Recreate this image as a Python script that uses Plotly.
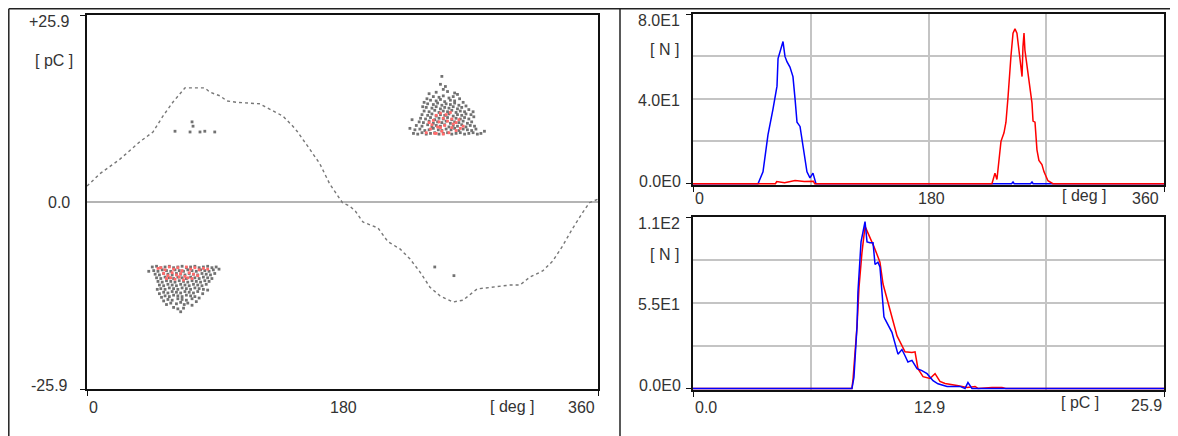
import plotly.graph_objects as go

# the page body has an 8 px margin; the figure is sized to fit inside the window
OFF = 8
W, H = 1178 - 2 * OFF, 436 - OFF

# ---------------- data ----------------
# left: phase-resolved pattern, sine reference (deg, pC)
sine_ref = [(0, 2.2), (9, 3.9), (23, 5.9), (37, 8.3), (46.5, 9.7), (53.5, 11.9), (60.6, 13.85), (65.5, 15.0),
            (69, 15.8), (83, 15.8), (86.7, 15.2), (93.7, 14.7), (98.6, 14.0), (105.7, 13.8), (121.9, 13.6),
            (125.4, 13.2), (131, 12.6), (138, 11.9), (145, 10.5), (148, 9.8), (157, 7.3), (164, 5.3), (171, 2.5),
            (180, -0.1), (185, -0.55), (189, -1.25), (194.4, -2.77), (205, -3.6), (212, -5.5), (220.5, -6.5),
            (227.6, -7.9), (234.6, -9.7), (241.6, -11.8), (248.7, -13.0), (257.8, -13.85), (264.9, -13.6),
            (274.8, -12.05), (286, -11.8), (298, -11.5), (305, -11.5), (312, -10.4), (321, -9.55), (328, -8.2),
            (335, -6.1), (342, -3.7), (349.4, -1.4), (354, -0.1), (360, 0.4)]

pos_cluster_gray = [
    (230, 9.5), (233, 9.4), (236, 9.6), (239, 9.4), (242, 9.5), (245, 9.6), (248, 9.4), (251, 9.5), (254, 9.6),
    (257, 9.4), (260, 9.5), (263, 9.6), (266, 9.4), (269, 9.5), (272, 9.6), (275, 9.4), (277.5, 9.5),
    (231, 10.0), (234.5, 10.1), (238, 9.9), (241, 10.0), (244, 10.2), (247.5, 10.0), (250, 9.9), (253, 10.1),
    (256.5, 10.0), (259, 10.2), (262, 9.9), (265, 10.1), (268, 10.0), (271, 9.9), (274, 10.1),
    (232, 10.6), (236, 10.5), (240, 10.7), (243, 10.4), (246, 10.6), (249, 10.5), (252, 10.7), (255, 10.4),
    (258, 10.6), (261, 10.5), (264, 10.7), (267, 10.4), (270, 10.6), (273, 10.5),
    (234, 11.1), (237, 11.0), (241, 11.2), (244, 10.9), (247, 11.1), (250, 11.0), (253, 11.2), (256, 10.9),
    (259, 11.1), (262, 11.0), (265, 11.2), (268, 10.9), (271, 11.1),
    (235, 11.6), (238.5, 11.5), (242, 11.7), (245, 11.4), (248, 11.6), (251, 11.5), (254, 11.7), (257, 11.4),
    (260, 11.6), (263, 11.5), (266, 11.7), (269, 11.5), (272.5, 11.8),
    (236, 12.1), (240, 12.0), (243, 12.2), (246, 11.9), (249, 12.1), (252, 12.0), (255, 12.2), (258, 11.9),
    (261, 12.1), (264, 12.0), (267, 12.2), (270.5, 12.1),
    (237.5, 12.6), (241, 12.5), (245, 12.7), (248, 12.4), (251, 12.6), (254, 12.5), (257, 12.7), (260, 12.4),
    (263, 12.6), (266, 12.5), (269, 12.8), (272, 12.5),
    (236.5, 13.2), (239, 13.1), (243, 13.0), (246, 13.2), (249, 12.9), (252, 13.1), (255, 13.0), (258, 13.2),
    (261, 12.9), (264, 13.1), (267, 13.3),
    (237.5, 13.8), (240, 13.6), (244, 13.5), (247, 13.7), (250, 13.4), (253, 13.6), (256, 13.5), (259, 13.7),
    (262, 13.4), (265, 13.8),
    (239.5, 14.3), (242, 14.1), (246, 14.0), (249, 14.2), (252, 13.9), (256, 14.1), (259, 14.0), (262.5, 14.3),
    (244, 14.6), (248, 14.5), (251, 14.7), (255, 14.4), (258, 14.6), (261, 14.9),
    (246, 15.2), (251, 15.6), (249, 16.3), (250, 17.4), (254, 15.3), (241, 15.0), (259, 15.1),
    (227.5, 10.2), (280, 9.8), (229, 11.4), (252.5, 16.0)]

pos_cluster_red = [
    (239, 9.6), (242, 10.1), (245, 9.5), (247, 10.4), (250, 9.8), (252, 10.6), (255, 9.6), (257, 10.3),
    (260, 9.9), (263, 10.2), (241, 11.0), (244, 11.3), (248, 11.1), (251, 11.6), (254, 11.2), (257, 11.5),
    (260, 11.0), (246, 12.0), (249, 12.3), (253, 12.1), (256, 12.4), (243, 10.7), (249, 10.3), (258, 10.8),
    (262, 11.4), (265, 10.5), (251, 9.4), (246, 9.5)]

neg_cluster_gray = [
    (46, -9.0), (49, -8.9), (52, -9.1), (55, -9.0), (58, -8.9), (61, -9.1), (64, -9.0), (67, -8.9), (70, -9.1),
    (73, -9.0), (76, -8.9), (79, -9.1), (82, -9.0), (85, -8.9), (88, -9.1), (91, -9.0),
    (47, -9.5), (50, -9.6), (53, -9.4), (56, -9.5), (59, -9.6), (62, -9.4), (65, -9.5), (68, -9.6), (71, -9.4),
    (74, -9.5), (77, -9.6), (80, -9.4), (83, -9.5), (86, -9.6), (89, -9.4),
    (48, -10.0), (51, -10.1), (54, -9.9), (57, -10.0), (60, -10.1), (63, -9.9), (66, -10.0), (69, -10.1),
    (72, -9.9), (75, -10.0), (78, -10.1), (81, -9.9), (84, -10.0), (87, -10.1), (90, -9.9),
    (49, -10.5), (52, -10.6), (55, -10.4), (58, -10.5), (61, -10.6), (64, -10.4), (67, -10.5), (70, -10.6),
    (73, -10.4), (76, -10.5), (79, -10.6), (82, -10.4), (85, -10.5), (88, -10.6),
    (50, -11.0), (53, -11.1), (56, -10.9), (59, -11.0), (62, -11.1), (65, -10.9), (68, -11.0), (71, -11.1),
    (74, -10.9), (77, -11.0), (80, -11.1), (83, -10.9), (86, -11.0),
    (51, -11.5), (54, -11.6), (57, -11.4), (60, -11.5), (63, -11.6), (66, -11.4), (69, -11.5), (72, -11.6),
    (75, -11.4), (78, -11.5), (81, -11.6), (84, -11.4),
    (49.5, -12.1), (52, -12.0), (55, -12.1), (58, -11.9), (61, -12.0), (64, -12.1), (67, -11.9), (70, -12.0),
    (73, -12.1), (76, -11.9), (79, -12.0), (82, -12.1), (85, -12.2),
    (51, -12.7), (54, -12.5), (57, -12.6), (60, -12.4), (63, -12.5), (66, -12.6), (69, -12.4), (72, -12.5),
    (75, -12.6), (78, -12.4), (81.5, -12.7),
    (52.5, -13.2), (55, -13.0), (58, -13.1), (61, -12.9), (64, -13.0), (67, -13.1), (70, -12.9), (73, -13.0),
    (76, -13.1), (79, -13.3),
    (54, -13.7), (57, -13.5), (60, -13.6), (64, -13.4), (67, -13.5), (70, -13.6), (74, -13.4), (77, -13.8),
    (56, -14.2), (59, -14.0), (63, -14.1), (66, -13.9), (68.5, -14.2), (71, -14.0), (74, -14.3),
    (61, -14.6), (66, -15.2), (68, -14.7), (64, -14.8), (43.5, -9.6), (93, -9.3)]

neg_cluster_red = [
    (52, -9.1), (55, -9.4), (58, -9.0), (61, -9.3), (64, -9.1), (67, -9.5), (70, -9.0), (73, -9.3), (76, -9.1),
    (79, -9.4), (82, -9.2), (54, -9.9), (57, -10.2), (60, -9.8), (63, -10.1), (66, -9.9), (69, -10.3),
    (72, -9.8), (75, -10.0), (78, -10.2), (56, -10.6), (62, -10.7), (65, -10.4), (68, -10.8), (71, -10.5),
    (74, -10.6), (59, -10.5), (85, -9.3), (50, -9.2)]

stray_gray = [(62, 9.8), (72.6, 9.7), (74, 11.1), (74.7, 10.5), (79.6, 9.7), (83, 9.8), (90, 9.7),
              (245, -9.0), (258.5, -10.2)]

# top right: phase distribution counts (deg, N)
phase_blue = [(0, 0), (49.7, 0), (53.5, 5.6), (57.3, 23), (61.1, 35), (64.2, 46), (65, 59), (68, 66), (68.8, 67),
              (70.3, 60), (71.8, 57.5), (74.1, 55), (76.4, 50.5), (78, 40), (79.5, 29), (81.8, 27), (84.1, 18),
              (87.1, 5.6), (89.4, 2.8), (91.7, 5), (94, 0), (243.5, 0), (244.6, 0.8), (245.5, 0), (258, 0),
              (259.1, 0.8), (260, 0), (360, 0)]
phase_red = [(0, 0), (63, 0), (64, 1), (70, 0.5), (78, 1.5), (85, 1), (92, 1.2), (93, 0), (228.5, 0), (230.8, 5),
             (232.3, 2), (233.9, 10), (235.4, 20), (237.7, 24), (239.2, 29), (240.8, 41), (241.5, 49), (243, 60),
             (244.6, 71), (246.1, 73), (247.6, 71), (249.2, 62), (251.5, 50.5), (252.2, 64.5), (253, 71),
             (253.7, 63), (255.3, 55), (256.8, 47.7), (259.1, 38), (259.9, 29.5), (261.4, 29), (262.9, 16),
             (264.4, 11), (266.7, 9), (268.3, 5.6), (271.3, 1.4), (275.1, 0), (360, 0)]

# bottom right: amplitude distribution (pC, N)
amp_blue = [(0, 0), (8.74, 0), (8.85, 7), (9.02, 40), (9.07, 61.7), (9.24, 94), (9.46, 107), (9.57, 94),
            (9.73, 93.5), (9.90, 93.5), (10.01, 79.5), (10.17, 81), (10.28, 78), (10.39, 58.5), (10.50, 46),
            (10.56, 44.5), (10.72, 41), (10.94, 36), (11.27, 22), (11.49, 25), (11.66, 21), (11.82, 17),
            (12.04, 18), (12.32, 12.7), (12.59, 11.4), (12.87, 9.5), (13.20, 5), (13.47, 3), (13.97, 1.3),
            (14.68, 1.3), (14.96, 0), (15.12, 3.8), (15.34, 0), (25.9, 0)]
amp_red = [(0, 0), (8.74, 0), (8.80, 6), (9.02, 40), (9.13, 65), (9.29, 87), (9.46, 104), (9.62, 100),
           (9.84, 93.5), (9.95, 91), (10.12, 86), (10.28, 81), (10.45, 67), (10.67, 57), (10.83, 51),
           (10.94, 46), (11.22, 33.7), (11.38, 30), (11.66, 23.5), (12.04, 23), (12.21, 23.5), (12.37, 12.7),
           (12.65, 7.6), (13.03, 6.4), (13.31, 9.5), (13.58, 4.5), (13.86, 3.2), (14.52, 1.9), (15.07, 0.6),
           (15.51, 1.3), (15.67, 0), (16.44, 0.6), (16.99, 0.6), (17.2, 0), (25.9, 0)]

# tick labels
left_y_labels = ["+25.9", "0.0", "-25.9"]
left_x_labels = ["0", "180", "360"]
top_y_labels = ["8.0E1", "4.0E1", "0.0E0"]
top_x_labels = ["0", "180", "360"]
bot_y_labels = ["1.1E2", "5.5E1", "0.0E0"]
bot_x_labels = ["0.0", "12.9", "25.9"]


def xs(pts):
    return [p[0] for p in pts]


def ys(pts):
    return [p[1] for p in pts]


GRAY = "#727272"
RED = "#ff6a6a"

fig = go.Figure()
# left panel
fig.add_trace(go.Scatter(x=xs(sine_ref), y=ys(sine_ref), mode="lines",
                         line=dict(color="#777777", width=1.4, dash="dot"), xaxis="x", yaxis="y"))
for pts, col in [(pos_cluster_gray, GRAY), (neg_cluster_gray, GRAY), (stray_gray, GRAY),
                 (pos_cluster_red, RED), (neg_cluster_red, RED)]:
    fig.add_trace(go.Scatter(x=xs(pts), y=ys(pts), mode="markers",
                             marker=dict(symbol="square", size=2.8, color=col, line=dict(width=0)),
                             xaxis="x", yaxis="y"))
# top right
fig.add_trace(go.Scatter(x=xs(phase_blue), y=ys(phase_blue), mode="lines",
                         line=dict(color="#0000ff", width=1.5), xaxis="x2", yaxis="y2"))
fig.add_trace(go.Scatter(x=xs(phase_red), y=ys(phase_red), mode="lines",
                         line=dict(color="#ff0000", width=1.5), xaxis="x2", yaxis="y2"))
# bottom right
fig.add_trace(go.Scatter(x=xs(amp_red), y=ys(amp_red), mode="lines",
                         line=dict(color="#ff0000", width=1.5), xaxis="x3", yaxis="y3"))
fig.add_trace(go.Scatter(x=xs(amp_blue), y=ys(amp_blue), mode="lines",
                         line=dict(color="#0000ff", width=1.5), xaxis="x3", yaxis="y3"))


def px_x(x):
    return (x - OFF) / W


def px_y(y):
    return 1 - (y - OFF) / H


frame = dict(showline=True, mirror=True, linecolor="#111111", linewidth=1.5, showticklabels=False,
             ticks="outside", ticklen=5, tickcolor="#111111", tickwidth=1.2, fixedrange=True)
grid_minor = dict(showgrid=True, gridcolor="#c4c4c4", gridwidth=1.5, ticks="")

fig.update_layout(
    width=W, height=H, margin=dict(l=0, r=0, t=0, b=0), showlegend=False,
    paper_bgcolor="white", plot_bgcolor="white",
    xaxis=dict(domain=[px_x(87), px_x(598)], range=[0, 360], anchor="y", tickvals=[0, 360],
               showgrid=False, zeroline=False, **frame),
    yaxis=dict(domain=[px_y(389), px_y(15)], range=[-25.9, 25.9], anchor="x", tickvals=[-25.9, 25.9],
               showgrid=False, zeroline=True, zerolinecolor="#b4b4b4", zerolinewidth=1.5, **frame),
    xaxis2=dict(domain=[px_x(693), px_x(1164)], range=[0, 360], anchor="y2", tickvals=[0, 360],
                showgrid=False, zeroline=False, minor=dict(tickvals=[90, 180, 270], **grid_minor), **frame),
    yaxis2=dict(domain=[px_y(185), px_y(14)], range=[-0.6, 80], anchor="x2", tickvals=[0, 80],
                showgrid=False, zeroline=False, minor=dict(tickvals=[20, 40, 60], **grid_minor), **frame),
    xaxis3=dict(domain=[px_x(693), px_x(1164)], range=[0, 25.9], anchor="y3", tickvals=[0, 25.9],
                showgrid=False, zeroline=False, minor=dict(tickvals=[6.475, 12.95, 19.425], **grid_minor),
                **frame),
    yaxis3=dict(domain=[px_y(390), px_y(217)], range=[-1.0, 110], anchor="x3", tickvals=[0, 110],
                showgrid=False, zeroline=False, minor=dict(tickvals=[27.5, 55, 82.5], **grid_minor), **frame),
)

# outer panel frames (the window edge is at -OFF, so keep them just inside)
for (x0, y0, x1, y1) in [(8.8, 8.8, 1178, 8.8), (8.8, 8.8, 8.8, 436), (620, 8.8, 620, 436)]:
    fig.add_shape(type="line", xref="paper", yref="paper", x0=px_x(x0), y0=px_y(y0), x1=px_x(x1), y1=px_y(y1),
                  line=dict(color="#222222", width=1.5))

FONT = dict(family="Liberation Sans, Arial, sans-serif", size=16, color="#333333")


def label(text, x, y, anchor="right"):
    fig.add_annotation(text=text, x=px_x(x), y=px_y(y), xref="paper", yref="paper", showarrow=False,
                       xanchor=anchor, yanchor="middle", font=FONT)


# left panel labels
label(left_y_labels[0], 72, 22)
label("[ pC ]", 75, 60)
label(left_y_labels[1], 72, 202)
label(left_y_labels[2], 70, 385)
label(left_x_labels[0], 93, 407, "center")
label(left_x_labels[1], 343, 407, "center")
label("[ deg ]", 512, 406, "center")
label(left_x_labels[2], 581, 407, "center")

# top right labels
label(top_y_labels[0], 682, 20)
label("[ N ]", 681, 49)
label(top_y_labels[1], 682, 100)
label(top_y_labels[2], 683, 181)
label(top_x_labels[0], 699, 198, "center")
label(top_x_labels[1], 931, 198, "center")
label("[ deg ]", 1084, 196, "center")
label(top_x_labels[2], 1145, 198, "center")

# bottom right labels
label(bot_y_labels[0], 682, 224)
label("[ N ]", 681, 254)
label(bot_y_labels[1], 682, 304)
label(bot_y_labels[2], 683, 385)
label(bot_x_labels[0], 706, 407, "center")
label(bot_x_labels[1], 929, 407, "center")
label("[ pC ]", 1080, 402, "center")
label(bot_x_labels[2], 1146, 405, "center")

fig.write_html("out.html")
